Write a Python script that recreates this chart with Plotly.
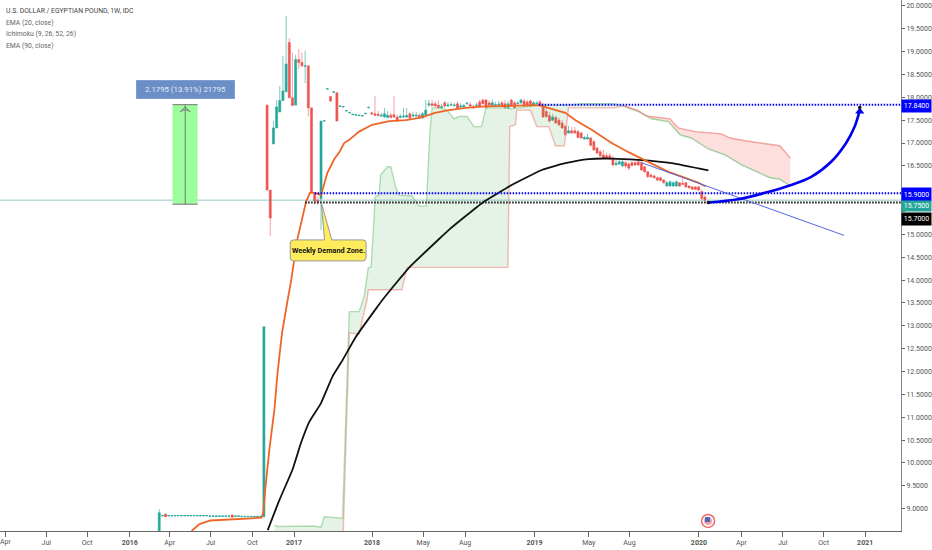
import plotly.graph_objects as go

# ---------- axes ----------
x_left, x_right = -84.18, 199.8
y_low, y_high = 8.51, 20.13
tick_pos = [-82.6, -69.6, -56.7, -43.3, -30.7, -17.8, -4.6, 8.5, 33.1, 49.2, 62.4, 84.3, 101.4, 114.2, 136.1, 149.5, 162.5, 175.4, 188.5]
tick_labels = ["", "Jul", "Oct", "<b>2016</b>", "Apr", "Jul", "Oct", "<b>2017</b>", "<b>2018</b>", "May", "Aug",
               "<b>2019</b>", "May", "Aug", "<b>2020</b>", "Apr", "Jul", "Oct", "<b>2021</b>"]
first_tick_label = "Apr"
price_ticks = [9.0, 9.5, 10.0, 10.5, 11.0, 11.5, 12.0, 12.5, 13.0, 13.5, 14.0, 14.5, 15.0, 15.5, 16.0, 16.5, 17.0, 17.5, 18.0, 18.5, 19.0, 19.5, 20.0]
hidden_price_ticks = [15.5, 16.0]  # covered by the price tags in the reference

# ---------- weekly candles (bar number -34 ... 138) ----------
opens = [8.30, 8.84, 8.88, 8.84, 8.84, 8.84, 8.84, 8.84, 8.84, 8.84, 8.84, 8.84, 8.84, 8.84, 8.84, 8.84, 8.83, 8.83, 8.83, 8.83, 8.83, 8.83, 8.83, 8.86, 8.83, 8.83, 8.82, 8.82, 8.82, 8.82, 8.82, 8.82, 8.82, 8.82,
         17.83, 15.97, 16.98, 17.33, 17.68, 17.93, 18.12, 19.20, 17.99, 17.83,
         18.83, 18.76, 18.68, 18.69, 17.77, 15.91, 15.75, 15.78, 17.48, 18.18,
         18.02, 18.11, 18.10, 17.80, 17.79, 17.70, 17.66, 17.62, 17.61, 17.60,
         17.59, 17.64, 17.77, 17.66, 17.64, 17.63, 17.59, 17.57, 17.56, 17.61,
         17.62, 17.57, 17.56, 17.57, 17.57, 17.64, 17.59, 17.59, 17.61, 17.55,
         17.61, 17.83, 17.86, 17.86, 17.83, 17.77, 17.88, 17.81, 17.83, 17.82,
         17.86, 17.79, 17.79, 17.86, 17.84, 17.80, 17.82, 17.90, 17.94, 17.94,
         17.88, 17.81, 17.83, 17.84, 17.88, 17.86, 17.77, 17.94, 17.88, 17.86,
         17.88, 17.92, 17.90, 17.92, 17.83, 17.86, 17.90, 17.81, 17.69, 17.60,
         17.50, 17.56, 17.50, 17.44, 17.36, 17.22, 17.27, 17.27, 17.25, 17.22,
         17.09, 17.09, 17.11, 17.03, 16.89, 16.81, 16.74, 16.72, 16.72, 16.67,
         16.53, 16.54, 16.50, 16.57, 16.54, 16.57, 16.57, 16.59, 16.57, 16.48,
         16.37, 16.30, 16.28, 16.24, 16.24, 16.19, 16.06, 16.06, 16.06, 16.06,
         16.13, 16.12, 16.13, 16.06, 16.04, 16.04, 16.04, 15.94, 15.82]
highs = [8.99, 8.85, 8.89, 8.86, 8.86, 8.86, 8.86, 8.86, 8.86, 8.86, 8.86, 8.86, 8.86, 8.86, 8.86, 8.86, 8.85, 8.85, 8.85, 8.85, 8.85, 8.85, 8.85, 8.87, 8.85, 8.85, 8.84, 8.84, 8.84, 8.84, 8.84, 8.84, 8.84, 12.98,
         17.83, 15.97, 17.48, 17.94, 18.25, 18.91, 19.78, 19.30, 18.98, 18.93,
         19.06, 18.98, 19.02, 18.69, 17.77, 15.91, 15.82, 17.48, 17.50, 18.20,
         18.02, 18.13, 18.10, 17.82, 17.81, 17.72, 17.68, 17.64, 17.63, 17.62,
         17.61, 17.66, 17.80, 17.68, 18.03, 17.70, 17.66, 17.77, 17.70, 17.66,
         18.03, 17.61, 17.64, 17.77, 17.77, 17.68, 17.69, 17.68, 17.66, 17.68,
         17.94, 17.94, 17.94, 17.92, 17.94, 17.86, 17.92, 17.90, 17.90, 17.88,
         17.92, 17.88, 17.86, 17.90, 17.90, 17.84, 17.88, 17.95, 17.97, 17.97,
         17.94, 17.95, 17.90, 17.92, 17.92, 17.94, 17.92, 17.97, 17.92, 17.92,
         17.97, 17.97, 17.95, 17.95, 17.92, 17.92, 17.94, 17.88, 17.77, 17.68,
         17.64, 17.60, 17.55, 17.50, 17.40, 17.37, 17.35, 17.35, 17.29, 17.25,
         17.15, 17.20, 17.13, 17.07, 16.92, 16.85, 16.85, 16.79, 16.78, 16.72,
         16.63, 16.63, 16.63, 16.61, 16.59, 16.61, 16.60, 16.62, 16.61, 16.50,
         16.39, 16.33, 16.31, 16.27, 16.26, 16.21, 16.17, 16.18, 16.16, 16.18,
         16.15, 16.24, 16.15, 16.08, 16.06, 16.06, 16.06, 15.99, 15.86]
lows = [8.30, 8.83, 8.81, 8.83, 8.83, 8.83, 8.83, 8.83, 8.83, 8.83, 8.83, 8.83, 8.83, 8.83, 8.83, 8.83, 8.82, 8.82, 8.82, 8.82, 8.82, 8.82, 8.82, 8.80, 8.82, 8.82, 8.81, 8.81, 8.81, 8.81, 8.81, 8.81, 8.81, 8.82,
        15.97, 14.97, 16.98, 17.33, 17.68, 17.93, 18.12, 17.99, 17.82, 17.83,
        18.62, 18.66, 18.31, 17.58, 15.91, 15.65, 15.65, 15.10, 17.47, 18.17,
        17.90, 18.10, 17.48, 17.79, 17.78, 17.69, 17.65, 17.61, 17.60, 17.59,
        17.58, 17.63, 17.76, 17.62, 17.59, 17.58, 17.57, 17.55, 17.54, 17.54,
        17.55, 17.46, 17.54, 17.55, 17.55, 17.50, 17.57, 17.57, 17.53, 17.53,
        17.59, 17.79, 17.80, 17.79, 17.75, 17.75, 17.78, 17.79, 17.81, 17.80,
        17.73, 17.78, 17.77, 17.84, 17.79, 17.75, 17.80, 17.79, 17.84, 17.75,
        17.81, 17.79, 17.81, 17.82, 17.79, 17.75, 17.75, 17.79, 17.75, 17.84,
        17.86, 17.79, 17.79, 17.79, 17.81, 17.84, 17.81, 17.55, 17.55, 17.45,
        17.48, 17.42, 17.37, 17.31, 17.16, 17.20, 17.20, 17.20, 17.10, 17.09,
        17.07, 17.07, 16.92, 16.83, 16.76, 16.70, 16.65, 16.65, 16.63, 16.50,
        16.50, 16.52, 16.48, 16.45, 16.41, 16.49, 16.50, 16.50, 16.39, 16.35,
        16.24, 16.24, 16.22, 16.17, 16.16, 16.11, 16.04, 16.04, 16.04, 16.04,
        16.04, 16.08, 16.02, 16.00, 15.97, 15.97, 15.95, 15.76, 15.69]
closes = [8.91, 8.85, 8.82, 8.85, 8.85, 8.85, 8.85, 8.85, 8.85, 8.85, 8.85, 8.85, 8.85, 8.85, 8.85, 8.85, 8.84, 8.84, 8.84, 8.84, 8.84, 8.84, 8.84, 8.81, 8.84, 8.84, 8.83, 8.83, 8.83, 8.83, 8.83, 8.83, 8.83, 12.98,
          15.97, 15.36, 17.33, 17.79, 17.93, 18.14, 18.73, 17.99, 17.82, 18.83,
          18.76, 18.69, 18.69, 17.77, 15.91, 15.73, 15.71, 17.48, 17.49, 18.19,
          17.92, 18.12, 17.48, 17.81, 17.80, 17.71, 17.67, 17.63, 17.62, 17.61,
          17.60, 17.65, 17.78, 17.64, 17.61, 17.60, 17.61, 17.64, 17.61, 17.56,
          17.57, 17.48, 17.58, 17.59, 17.60, 17.55, 17.61, 17.61, 17.55, 17.64,
          17.72, 17.86, 17.82, 17.81, 17.77, 17.80, 17.81, 17.83, 17.84, 17.83,
          17.76, 17.81, 17.82, 17.87, 17.81, 17.77, 17.83, 17.81, 17.86, 17.77,
          17.83, 17.88, 17.84, 17.85, 17.81, 17.77, 17.86, 17.81, 17.77, 17.87,
          17.94, 17.81, 17.81, 17.81, 17.88, 17.87, 17.83, 17.57, 17.58, 17.48,
          17.57, 17.44, 17.40, 17.33, 17.18, 17.27, 17.22, 17.22, 17.12, 17.11,
          17.12, 17.12, 16.95, 16.85, 16.78, 16.72, 16.67, 16.67, 16.65, 16.52,
          16.56, 16.59, 16.59, 16.50, 16.45, 16.51, 16.52, 16.52, 16.41, 16.37,
          16.26, 16.26, 16.24, 16.19, 16.18, 16.13, 16.13, 16.15, 16.13, 16.15,
          16.06, 16.10, 16.04, 16.02, 15.99, 15.99, 15.97, 15.78, 15.75]
bars = list(range(-34, -34 + len(opens)))

# ---------- indicators ----------
ema20_x = [-23.8, -21.3, -17.8, -11.2, -1.8, -1.2, -0.6, 0.7, 2.3, 3.3, 4.7, 6.5, 7.6, 9.5, 12.3, 13.5, 15.1, 17, 19, 21.2, 22.7, 24.3, 25.9, 29, 33.1, 38.5, 43.7, 48.8, 52.9, 57.3, 62.6, 68.9, 77.1, 85.6, 94, 97.2, 102.3, 108.6, 113.9, 119.6, 126.5, 131.8, 136, 138.2]
ema20 = [8.51, 8.66, 8.74, 8.76, 8.80, 8.91, 9.41, 10.28, 11.16, 11.97, 12.84, 13.57, 14.00, 14.88, 15.72, 15.91, 15.91, 15.86, 16.35, 16.65, 16.79, 17.00, 17.07, 17.25, 17.40, 17.48, 17.50, 17.56, 17.66, 17.72, 17.77, 17.80, 17.81, 17.83, 17.66, 17.50, 17.29, 17.00, 16.80, 16.61, 16.37, 16.24, 16.13, 16.05]
ema90_x = [0.2, 3.9, 8, 10.7, 13.3, 17, 20.6, 23.8, 28, 34.8, 36.4, 44.7, 54.2, 57.3, 67.8, 77.1, 86.6, 94, 101.4, 108.6, 117, 127.5, 139.1]
ema90 = [8.53, 9.19, 9.85, 10.44, 10.90, 11.31, 11.89, 12.25, 12.76, 13.42, 13.57, 14.27, 14.90, 15.10, 15.69, 16.08, 16.41, 16.56, 16.65, 16.66, 16.63, 16.56, 16.40]

span_a_x = [2.3, 3.3, 14.9, 17, 18, 23.8, 25.9, 29, 30.6, 31.9, 32.8, 34.1, 35.3, 35.8, 37.9, 39, 40.6, 41.6, 45.7, 47.9, 50.2, 51.3, 52, 55.1, 56.7, 58.9, 60.5, 63, 65.2, 67.6, 69, 75.2, 76.7, 78.7, 85.6, 95, 99.2, 109.2, 112.4,
            117, 121.2, 126.5, 130.2, 133.7, 139.1, 144.3, 149.6, 154.8, 158.5, 161.6, 164.9]
span_a = [8.64, 8.61, 8.62, 8.59, 8.82, 8.79, 13.31, 13.31, 13.64, 14.27, 14.29, 15.83, 15.86, 16.30, 16.48, 16.48, 16.02, 15.86, 15.84, 15.62, 15.62, 17.22, 17.77, 17.77, 17.72, 17.53, 17.58, 17.58, 17.36, 17.36, 17.77, 17.77, 17.75, 17.77, 17.83, 17.83, 17.86, 17.86, 17.81,
          17.69, 17.53, 17.47, 17.18, 17.11, 16.87, 16.74, 16.52, 16.35, 16.24, 16.21, 16.06]
span_b_x = [2.3, 23.8, 25.9, 29, 31.5, 31.9, 42.5, 44.1, 75.9, 76.5, 78.3, 78.7, 83, 85, 88.8, 90.9, 93.7, 95, 109.2, 112.4,
            117, 119.6, 124.3, 127, 129.6, 134.9, 143.2, 145.9, 150.6, 157.9, 161.6, 164.9]
span_b = [8.0, 8.0, 12.84, 12.82, 13.57, 13.79, 13.79, 14.28, 14.28, 17.36, 17.40, 17.72, 17.72, 17.36, 17.36, 16.94, 16.94, 17.77, 17.77, 17.81,
          17.71, 17.59, 17.55, 17.53, 17.33, 17.25, 17.20, 17.11, 17.05, 16.98, 16.94, 16.67]
cross_a, cross_b = 39, 20  # number of points of each span up to where they cross

# ---------- drawings ----------
levels = [17.84, 15.90, 15.70]
level_starts = [85.6, 15, 12]
level_colors = ["#0000ff", "#0000ff", "#111111"]
last_price = 15.75
trend_x = [118, 181.8]
trend_y = [16.57, 14.98]
curve_x = [139.1, 148.5, 156.9, 164.2, 171.5, 177.8, 182.5, 185.2, 186.8]
curve_y = [15.70, 15.77, 15.91, 16.06, 16.26, 16.59, 17.00, 17.36, 17.72]
measure_x = [-29.8, -21.9]
measure_arrow_x = -25.8
measure_top, measure_bottom = 17.84, 15.66
measure_label = "2.1795 (13.91%) 21795"
callout_label = "Weekly Demand Zone."
legend_lines = ["U.S. DOLLAR / EGYPTIAN POUND, 1W, IDC", "EMA (20, close)", "Ichimoku (9, 26, 52, 26)", "EMA (90, close)"]
tag_labels = ["17.8400", "15.9000", "15.7500", "15.7000"]
tag_colors = ["#0000ff", "#0000ff", "#26a69a", "#000000"]
tag_px = [106, 194.5, 206.5, 219]
tag_h = [10, 11, 7.5, 10]

UP, DOWN = "#26a69a", "#ef5350"
FONT = "Roboto, sans-serif"
PLOT_H = 531
PLOT_W = 903

fig = go.Figure()

# cloud: green part
fig.add_trace(go.Scatter(x=span_b_x[:cross_b], y=span_b[:cross_b], mode="lines", line=dict(color="rgba(239,130,125,0.55)", width=1.4)))
fig.add_trace(go.Scatter(x=span_a_x[:cross_a], y=span_a[:cross_a], mode="lines", line=dict(color="rgba(120,195,125,0.55)", width=1.4),
                         fill="tonexty", fillcolor="rgba(76,175,80,0.15)"))
# cloud: red part
fig.add_trace(go.Scatter(x=span_a_x[cross_a - 1:], y=span_a[cross_a - 1:], mode="lines", line=dict(color="rgba(120,195,125,0.7)", width=1.4)))
fig.add_trace(go.Scatter(x=span_b_x[cross_b - 1:], y=span_b[cross_b - 1:], mode="lines", line=dict(color="rgba(239,130,125,0.7)", width=1.4),
                         fill="tonexty", fillcolor="rgba(244,67,54,0.17)"))

# last price line
fig.add_trace(go.Scatter(x=[x_left, x_right], y=[last_price, last_price], mode="lines", line=dict(color="rgba(60,160,150,0.55)", width=1)))

# measuring box
fig.add_trace(go.Scatter(x=[measure_x[0], measure_x[1], measure_x[1], measure_x[0], measure_x[0]],
                         y=[measure_bottom, measure_bottom, measure_top, measure_top, measure_bottom],
                         mode="lines", line=dict(width=0), fill="toself", fillcolor="#9bfd9b"))
fig.add_trace(go.Scatter(x=measure_x, y=[measure_top, measure_top], mode="lines", line=dict(color="#777777", width=1)))
fig.add_trace(go.Scatter(x=measure_x, y=[measure_bottom, measure_bottom], mode="lines", line=dict(color="#999999", width=1.5)))
fig.add_trace(go.Scatter(x=[measure_arrow_x, measure_arrow_x], y=[measure_bottom, measure_top], mode="lines", line=dict(color="#777777", width=1)))
fig.add_trace(go.Scatter(x=[measure_arrow_x], y=[measure_top - 0.05], mode="markers",
                         marker=dict(symbol="arrow-wide", size=7, color="rgba(0,0,0,0)", line=dict(color="#777777", width=1))))

# candles
fig.add_trace(go.Candlestick(x=bars, open=opens, high=highs, low=lows, close=closes, whiskerwidth=0,
                             increasing=dict(line=dict(color="rgba(38,166,154,0.6)", width=1), fillcolor=UP),
                             decreasing=dict(line=dict(color="rgba(239,83,80,0.55)", width=1), fillcolor=DOWN)))

# EMAs
fig.add_trace(go.Scatter(x=ema90_x, y=ema90, mode="lines", line=dict(color="#111111", width=1.8, shape="spline", smoothing=0.4)))
fig.add_trace(go.Scatter(x=ema20_x, y=ema20, mode="lines", line=dict(color="#ef6526", width=1.8)))

# horizontal levels
for lvl, start, col in zip(levels, level_starts, level_colors):
    fig.add_trace(go.Scatter(x=[start, x_right], y=[lvl, lvl], mode="lines", line=dict(color=col, width=2, dash="1.5px,1.5px")))

# trend line and curved arrow
fig.add_trace(go.Scatter(x=trend_x, y=trend_y, mode="lines", line=dict(color="#5468e0", width=1)))
fig.add_trace(go.Scatter(x=curve_x, y=curve_y, mode="lines", line=dict(color="#0000ee", width=2.6, shape="spline")))
fig.add_trace(go.Scatter(x=[curve_x[-1]], y=[curve_y[-1] - 0.03], mode="markers",
                         marker=dict(symbol="triangle-up", size=8, color="#0000ee")))
fig.add_trace(go.Scatter(x=[curve_x[0], curve_x[-1]], y=[curve_y[0], curve_y[-1] + 0.06], mode="markers",
                         marker=dict(size=3.5, color="#111111")))

# US flag event marker
event_x, event_y = 139, 8.73
fig.add_trace(go.Scatter(x=[event_x], y=[event_y], mode="markers",
                         marker=dict(size=13, color="#ffffff", line=dict(color="#f06a6a", width=1.5))))
fig.add_trace(go.Scatter(x=[event_x], y=[event_y], mode="markers",
                         marker=dict(size=8, symbol="circle", color="#f3a3a3")))
fig.add_trace(go.Scatter(x=[event_x - 0.2], y=[event_y + 0.03], mode="markers",
                         marker=dict(size=5, symbol="square", color="#4a66b8")))

# callout
cl, cr = 7.3, 31.2
ct, cb = 14.88, 14.42
rx, ry = 1.0, 0.07
tip_x, tip_y = 17.1, 15.69
base_l, base_r = 18.1, 20.4
path = (f"M {cl + rx} {ct} L {base_l} {ct} L {tip_x} {tip_y} L {base_r} {ct} L {cr - rx} {ct} "
        f"Q {cr} {ct} {cr} {ct - ry} L {cr} {cb + ry} Q {cr} {cb} {cr - rx} {cb} "
        f"L {cl + rx} {cb} Q {cl} {cb} {cl} {cb + ry} L {cl} {ct - ry} Q {cl} {ct} {cl + rx} {ct} Z")
shapes = [dict(type="path", xref="x", yref="y", path=path, fillcolor="#ffec5c", line=dict(color="#999999", width=1))]

annotations = [
    dict(x=(cl + cr) / 2, y=(ct + cb) / 2, xref="x", yref="y", text=f"<b>{callout_label}</b>", showarrow=False,
         font=dict(family=FONT, size=7.3, color="#111111")),
    dict(x=measure_arrow_x, y=18.17, xref="x", yref="y", text=measure_label, showarrow=False, width=95, height=15,
         bgcolor="#6b8ec6", bordercolor="#7f9fd2", borderwidth=1, font=dict(family=FONT, size=7.8, color="#e6ecf7")),
    dict(x=tick_pos[0], y=-10.5 / PLOT_H, xref="x", yref="paper", text=first_tick_label, showarrow=False, yanchor="middle",
         font=dict(family=FONT, size=7, color="#555555")),
]
for i, line in enumerate(legend_lines):
    annotations.append(dict(x=4 / PLOT_W, y=1 - (11 + 11.5 * i) / PLOT_H, xref="paper", yref="paper", xanchor="left", yanchor="middle",
                            text=line, showarrow=False, font=dict(family=FONT, size=6.8, color="#444444" if i == 0 else "#666666")))
for label, col, py, th in zip(tag_labels, tag_colors, tag_px, tag_h):
    annotations.append(dict(x=1, y=1 - py / PLOT_H, xref="paper", yref="paper", xanchor="left", yanchor="middle", text=label, showarrow=False,
                            width=27, height=th, bgcolor=col, font=dict(family=FONT, size=7, color="#ffffff")))

fig.update_layout(
    width=932, height=550, showlegend=False, autosize=False,
    margin=dict(l=0, r=29, t=0, b=19, pad=0), boxgap=0.08,
    paper_bgcolor="#ffffff", plot_bgcolor="#ffffff", hovermode=False,
    shapes=shapes, annotations=annotations,
    xaxis=dict(range=[x_left, x_right], rangeslider=dict(visible=False), tickmode="array", tickvals=tick_pos, ticktext=tick_labels,
               showgrid=False, zeroline=False, showline=True, linecolor="#666666", linewidth=1, ticks="outside", ticklen=5, tickcolor="#666666",
               tickfont=dict(family=FONT, size=7, color="#555555")),
    yaxis=dict(range=[y_low, y_high], side="right", tickmode="array", tickvals=price_ticks,
               ticktext=["" if p in hidden_price_ticks else f"{p:.4f}" for p in price_ticks],
               showgrid=False, zeroline=False, showline=True, linecolor="#888888", linewidth=1, ticks="outside", ticklen=3, tickcolor="#666666",
               tickfont=dict(family=FONT, size=7, color="#555555")),
)

fig.write_html("out.html", config=dict(displayModeBar=False), post_script="document.body.style.margin='0';")
